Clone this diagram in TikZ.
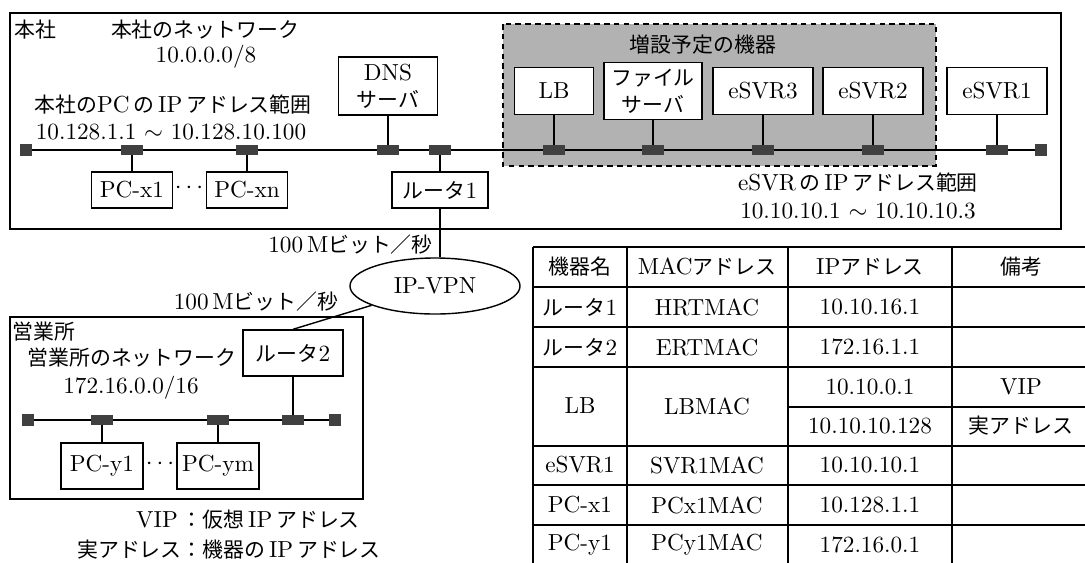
\documentclass[tikz,border=0pt]{standalone}
\usepackage{fontspec}
\setmainfont{lmroman10-regular.otf}
\newfontfamily\jp[Scale=0.9]{Noto Sans CJK JP}
\newcommand{\J}[1]{{\jp #1}}
\usetikzlibrary{positioning, shapes.geometric}

\tikzset{
  dev/.style={draw, line width=1pt, fill=white, inner sep=0pt, align=center},
  port/.style={fill=black!75, minimum width=0.55cm, minimum height=0.25cm, inner sep=0pt},
  term/.style={fill=black!75, minimum size=0.3cm, inner sep=0pt},
  wire/.style={line width=1pt},
  frame/.style={draw, line width=1.1pt},
  lbl/.style={inner sep=0pt, align=center},
  cell/.style={inner sep=0pt}
}

\begin{document}
\begin{tikzpicture}[x=0.025cm, y=-0.025cm, font=\fontsize{16.5}{19}\selectfont]
    \useasboundingbox (0,0) rectangle (1085,562);
    \clip (0,0) rectangle (1085,562);

    % Zona grigia (apparati previsti)
    \draw[dash pattern=on 4pt off 3pt, line width=1pt, fill=black!30] (503,24) rectangle (936,166);
    \node[lbl] (plan) at (703,45) {\J{増設予定の機器}};

    % Sede (riquadro e testi)
    \draw[frame] (10,13) rectangle (1061,229);
    \node[lbl, anchor=west] (hq) at (14,30) {\J{本社}};
    \node[lbl] (hqnet) at (205,30) {\J{本社のネットワーク}};
    \node[lbl] (hqaddr) at (206,57) {10.0.0.0/8};
    \node[lbl] (pcrange) at (173,105) {\J{本社の}PC\,\J{の}\,IP\,\J{アドレス範囲}};
    \node[lbl] (pcaddr) at (171,132) {10.128.1.1 $\sim$ 10.128.10.100};
    \node[lbl] (svrange) at (858,183) {eSVR\,\J{の}\,IP\,\J{アドレス範囲}};
    \node[lbl] (svaddr) at (858,211) {10.10.10.1 $\sim$ 10.10.10.3};

    % Bus della sede
    \node[term] (tl) at (26,150) {};
    \node[term] (tr) at (1041,150) {};
    \draw[wire] (tl) -- (tr);
    \foreach \n/\x in {px1/132, pxn/247, pdns/388, pr1/440, plb/554, pfs/653, ps3/763, ps2/873, ps1/997}
        \node[port] (\n) at (\x,150) {};

    % Apparati della sede
    \node[dev, minimum width=2.03cm, minimum height=0.9cm] (pcx1) at (132,190) {PC-x1};
    \node[dev, minimum width=2.03cm, minimum height=0.9cm] (pcxn) at (247,190) {PC-xn};
    \node[lbl] (dotsx) at (189,188) {$\cdots$};
    \node[dev, minimum width=2.48cm, minimum height=1.45cm] (dns) at (388,86) {DNS\\\J{サーバ}};
    \node[dev, minimum width=2.4cm, minimum height=0.9cm] (router1) at (440,190) {\J{ルータ}1};
    \node[dev, minimum width=1.98cm, minimum height=1.18cm] (lb) at (554,91) {LB};
    \node[dev, minimum width=2.45cm, minimum height=1.43cm] (fs) at (653,91) {\J{ファイル}\\\J{サーバ}};
    \node[dev, minimum width=2.5cm, minimum height=1.18cm] (esvr3) at (763,91) {eSVR3};
    \node[dev, minimum width=2.5cm, minimum height=1.18cm] (esvr2) at (873,91) {eSVR2};
    \node[dev, minimum width=2.5cm, minimum height=1.18cm] (esvr1) at (997,91) {eSVR1};
    \foreach \d/\p in {pcx1/px1, pcxn/pxn, dns/pdns, router1/pr1, lb/plb, fs/pfs, esvr3/ps3, esvr2/ps2, esvr1/ps1}
        \draw[wire] (\d) -- (\p);

    % IP-VPN e collegamenti
    \node[draw, ellipse, line width=1pt, minimum width=4.25cm, minimum height=1.4cm, inner sep=0pt] (vpn) at (435,286) {IP-VPN};
    \draw[wire] (router1.south) -- (router1.south |- vpn.north);
    \node[lbl, anchor=east] (bw1) at (433,245) {100\,M\J{ビット／秒}};
    \node[lbl] (bw2) at (256,302) {100\,M\J{ビット／秒}};

    % Filiale (riquadro e testi)
    \draw[frame] (10,317) rectangle (363,499);
    \node[lbl, anchor=west] (br) at (12,332) {\J{営業所}};
    \node[lbl] (brnet) at (132,358) {\J{営業所のネットワーク}};
    \node[lbl] (braddr) at (131,388) {172.16.0.0/16};
    \node[dev, minimum width=2.5cm, minimum height=1.15cm] (router2) at (293,353) {\J{ルータ}2};
    \draw[wire] (vpn) -- (router2.north);

    % Bus della filiale
    \node[term] (tl2) at (28,420) {};
    \node[term] (tr2) at (335,420) {};
    \draw[wire] (tl2) -- (tr2);
    \foreach \n/\x in {py1/102, pym/218, pr2/293}
        \node[port] (\n) at (\x,420) {};
    \node[dev, minimum width=2.05cm, minimum height=1.15cm] (pcy1) at (102,466) {PC-y1};
    \node[dev, minimum width=2.05cm, minimum height=1.15cm] (pcym) at (218,466) {PC-ym};
    \node[lbl] (dotsy) at (160,464) {$\cdots$};
    \foreach \d/\p in {pcy1/py1, pcym/pym, router2/pr2}
        \draw[wire] (\d) -- (\p);

    % Legenda
    \node[lbl, anchor=west] (legend) at (77,537) {\begin{tabular}{@{}r@{}l@{}}
        VIP\, & \J{：仮想}\,IP\,\J{アドレス}\\[2pt]
        \J{実アドレス} & \J{：機器の}\,IP\,\J{アドレス}
    \end{tabular}};

    % Tabella
    \foreach \y in {247,287,327,367,446,485,525,565}
        \draw[wire] (533,\y) -- (1090,\y);
    \draw[wire] (788,407) -- (1090,407);
    \foreach \x in {533,627,788,952,1090}
        \draw[wire] (\x,247) -- (\x,565);
    \foreach \n/\x/\y/\t in {
        hname/580/267/\J{機器名}, hmac/707/267/MAC\J{アドレス}, hip/870/267/IP\J{アドレス}, hnote/1021/267/\J{備考},
        r1n/580/307/\J{ルータ}1, r1m/707/307/HRTMAC, r1i/870/307/10.10.16.1,
        r2n/580/347/\J{ルータ}2, r2m/707/347/ERTMAC, r2i/870/347/172.16.1.1,
        lbn/580/406/LB, lbm/707/406/LBMAC, lbv/870/387/10.10.0.1, lbvn/1021/387/VIP,
        lbr/870/426/10.10.10.128, lbrn/1021/426/\J{実アドレス},
        s1n/580/465/eSVR1, s1m/707/465/SVR1MAC, s1i/870/465/10.10.10.1,
        x1n/580/505/PC-x1, x1m/707/505/PCx1MAC, x1i/870/505/10.128.1.1,
        y1n/580/545/PC-y1, y1m/707/545/PCy1MAC, y1i/870/545/172.16.0.1}
        \node[cell] (c\n) at (\x,\y) {\t};

\end{tikzpicture}
\end{document}
